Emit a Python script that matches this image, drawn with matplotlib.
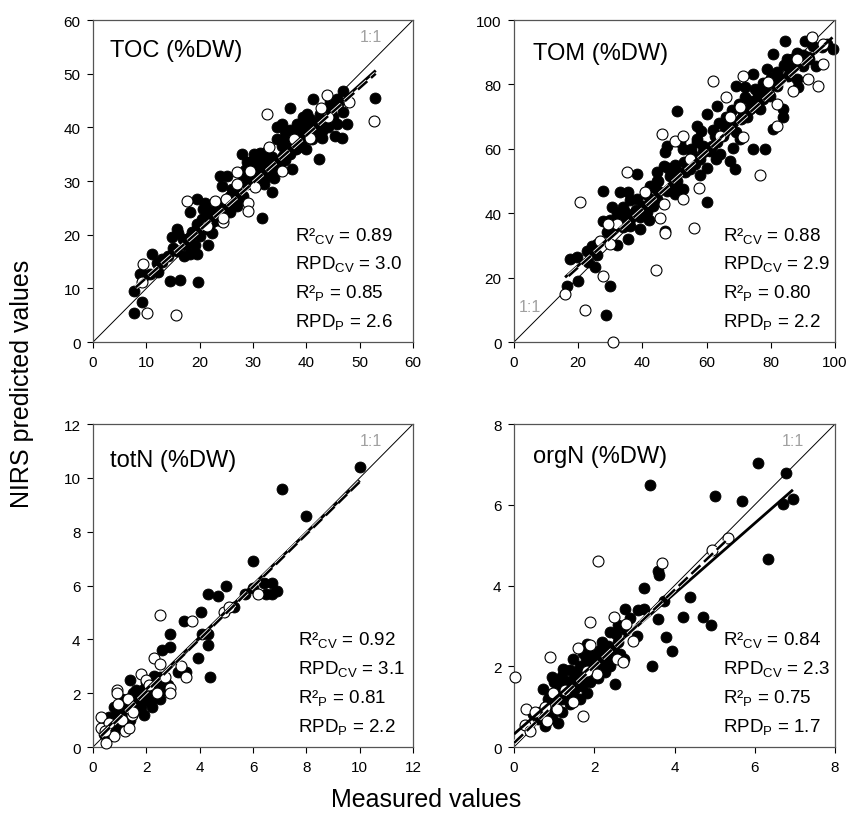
import matplotlib
matplotlib.use("Agg")
import matplotlib.pyplot as plt
import matplotlib.patheffects as pe

plt.rcParams['font.family'] = ['Liberation Sans', 'DejaVu Sans']
plt.rcParams['mathtext.fontset'] = 'custom'
plt.rcParams['mathtext.rm'] = 'Liberation Sans'
plt.rcParams['mathtext.it'] = 'Liberation Sans:italic'
plt.rcParams['mathtext.bf'] = 'Liberation Sans:bold'

# ---- TOC (%DW) ----
toc_cal_x = [7.6, 9.1, 7.6, 11, 8.8, 10.7, 12.2, 14.4, 16.3, 19.6, 14.1, 16, 17, 18.2, 19.4, 18.2, 19.4, 21,
             21.6, 21.3, 22.3, 24.1, 25.1, 26.3, 26.9, 27.9, 28.8, 30.1, 31.3, 31.6, 32, 33.5, 34.1, 35.7, 37.3,
             34.4, 35.4, 36.9, 38.5, 39.4, 41, 41.3, 42.3, 42.9, 45.7, 45.4, 46.6, 47.6, 46.9, 46, 46.9, 52.9,
             38.8, 40.1, 35.7, 38.2, 16.9, 18.2, 19.4, 20.4, 20.7, 21.3, 21.9, 22.6, 20.1, 19.1, 23.5, 24.4,
             25.7, 25.7, 27.2, 28.2, 28.8, 27.9, 29.4, 30.7, 31, 31.9, 32.6, 33.2, 34.4, 35.4, 36.3, 36.9, 37.6,
             38.2, 39.4, 40.1, 40.7, 41.9, 42.6, 43.2, 43.8, 44.7, 44.4, 45.7, 38.2, 34.4, 36, 14.8, 15.7, 15.7,
             11.9, 12.9, 9.8, 23.8, 30.0, 32.0, 33.0, 29.0, 36.5, 39.0, 41.5, 43.0, 24.0, 26.0, 22.0,
             28.5, 29.5, 30.5, 31.5, 32.5, 33.5, 30, 31, 32, 33, 34, 35, 36, 37, 38, 39, 40, 41, 42, 43, 44, 45,
             40, 37, 39.5, 22, 23, 24, 26, 27, 18.5, 19.5, 21, 17.5, 13, 15]
toc_cal_y = [9.6, 7.4, 5.5, 16.4, 12.7, 12.7, 13, 11.4, 11.5, 11.2, 16.1, 20.4, 16.1, 16.4, 16.4, 24.2, 26.6, 26,
             18, 21, 20.4, 29.1, 31, 28.2, 25.4, 35, 33.5, 35, 35.3, 23.2, 30.4, 27.9, 32.2, 34.7, 32.2,
             40, 40.6, 43.7, 36.3, 41.9, 37.8, 45.3, 34.1, 39.4, 40.6, 38.4, 38.1, 40.6, 46.8, 44.3, 42.8, 45.4,
             39.7, 42.5, 37.8, 39.1, 19.2, 19.5, 21.1, 22.9, 24.8, 23.5, 24.2, 22.6, 19.8, 18, 24.2, 25.5,
             27.3, 24.2, 26.7, 27.3, 29.4, 31.1, 30.4, 31.6, 33.5, 32.9, 34.1, 31.6, 33.5, 36.6, 37.2, 39.1, 36,
             37.8, 39.1, 40.4, 41.6, 40.9, 42.5, 41.6, 43.4, 42.8, 44.7, 45.3, 40.6, 37.8, 39.4, 19.5, 21.1, 17,
             14.8, 15.5, 12.4, 31, 33.0, 29.5, 34.5, 30.0, 35.0, 36.5, 39.0, 38.0, 22.5, 28.5, 24.0,
             32, 33.5, 34, 34.5, 35.5, 34.5, 31, 30, 31.5, 32, 30.5, 33, 34, 35, 36, 37, 38, 39, 40, 41, 40, 42,
             36, 39.5, 41, 22, 25, 23.5, 25.5, 28, 20.5, 22, 25, 18, 15, 17.5]
toc_val_x = [9.4, 10.1, 9.1, 15.5, 17.7, 22.9, 24.4, 24.4, 26.9, 29.1, 29.1, 29.4, 30.4, 32.9, 35.5, 32.7,
             40.7, 42.8, 43.8, 44.1, 47.9, 52.7, 37.6, 25, 21.3, 26.9]
toc_val_y = [14.5, 5.5, 11.1, 5, 26.3, 26.3, 22.3, 23.2, 31.6, 26, 24.5, 31.9, 28.8, 36.3, 31.9, 42.5,
             38.1, 43.7, 46, 41.9, 44.7, 41.1, 37.8, 26.7, 21.6, 29.4]
toc_fit_cal = ([7.5, 53.0], [9.9, 50.6])
toc_fit_val = ([8.0, 53.0], [10.2, 50.0])

# ---- TOM (%DW) ----
tom_cal_x = [17.4, 16.4, 20, 25.2, 29.9, 28.6, 27.8, 27.8, 30.4, 33, 35.6, 38.2, 34.6, 35.6, 39.2, 41.3, 44.4,
             47, 46.6, 47, 50.7, 51.7, 53.3, 56.9, 55.3, 60, 60, 58.4, 61, 62.6, 63.1, 64.1, 65.7, 67.3, 68.8,
             68.2, 69.3, 70.8, 71.9, 74.5, 74.5, 78.2, 73.5, 76.1, 78.7, 78.7, 80.8, 80.8, 83.9, 83.9, 84.4,
             84.9, 85.4, 88, 88, 88.5, 90.1, 90.6, 93.2, 94, 95.8, 97.4, 99.4,
             19.5, 22.6, 24.2, 25.7, 28.9, 30.9, 33, 34.1, 36.1, 37.7, 39.2, 38.2, 40.3, 42.3, 43.4, 44.4, 47.5,
             49.6, 50.7, 51.2, 48.6, 52.7, 54.8, 56.4, 57.9, 58.9, 61.6, 63.1, 65.2, 66.2, 68.3, 69.3, 71.4,
             73.5, 75.6, 76.6, 77.6, 79.7, 80.8, 81.8, 82.9, 85.9, 77.6, 75.1, 70.4, 56.9, 52.7, 47.5, 44.4,
             42.3, 29.9, 32.0, 45.0, 54.0, 60.0, 72.5, 86.5, 91.5,
             30, 32, 34, 36, 38, 41, 43, 45, 48, 50, 53, 55, 57, 59, 62, 64, 66, 68, 70, 72, 74, 76, 78, 80, 82,
             84, 86, 88, 90, 92, 63, 58, 50, 42, 36, 26, 23]
tom_cal_y = [25.8, 17.3, 19, 23.2, 17.5, 8.4, 37.7, 47, 41.8, 46.5, 46.7, 52.2, 40.3, 32, 35.1, 40.3, 50.1,
             58.9, 54.8, 34.6, 71.8, 62, 52.7, 63, 58.4, 43.4, 70.8, 65.6, 59.4, 64.1, 73.4, 58.4, 65.6, 56.3, 53.7,
             60.4, 79.6, 69.2, 79.1, 83.2, 60.1, 60.1, 75, 74.4, 77.5, 84.8, 89.4, 66.1, 69.8, 72.3, 93.6,
             87.9, 82.7, 89.9, 81.7, 79.1, 85.6, 93.6, 92, 85.8, 91.5, 92.5, 91,
             26.3, 28.4, 29.9, 30.4, 34.1, 35.1, 38.2, 35.6, 38.2, 40.3, 38.7, 44.4, 42.3, 44.4, 42.3, 44.4, 47,
             48.5, 50.1, 52.7, 51.6, 47.5, 53.7, 55.3, 56.8, 58.9, 60.9, 62, 64.1, 67.2, 68.2, 65.1, 71.3,
             72.3, 75.5, 72.3, 75.5, 76.5, 80.6, 79.6, 81.7, 84.8, 80.6, 78.6, 63, 67.2, 59.9, 61, 52.7,
             48.5, 35.1, 30.0, 47.0, 56.0, 54.0, 70.0, 88.0, 88.5,
             38, 40, 42, 44, 41, 46, 48, 50, 54, 55, 56, 60, 62, 61, 66, 68, 70, 72, 74, 76, 73, 77, 79, 82, 84,
             86, 83, 87, 89, 88, 57, 52, 46, 38, 36, 27, 25]
tom_val_x = [15.9, 22.1, 20.6, 27.8, 30.7, 44.1, 35.1, 46, 56.2, 47, 45.5, 62.1, 66, 71.4, 76.6, 79.2, 81.8,
             81.8, 87, 88, 91.7, 92.7, 94.8, 96.3, 96.3, 57.6, 52.7, 50.1, 52.7, 46.6, 40.8, 32, 29.4, 26.8,
             29.9, 67.3, 70.4, 71.4, 64.1, 54.8]
tom_val_y = [14.9, 10, 43.4, 20.6, 0.1, 22.5, 52.9, 64.6, 35.3, 34, 38.4, 81.2, 76.2, 82.7, 52, 80.8, 67.2,
             73.9, 78, 87.9, 81.7, 94.6, 79.4, 86.3, 92.5, 47.8, 44.4, 62.5, 64.1, 42.8, 46.5, 36.6, 36.6, 31.5,
             30.4, 69.8, 72.9, 63.8, 64.1, 56.8]
tom_fit_cal = ([15.9, 99.2], [20.1, 94.6])
tom_fit_val = ([17.0, 97.0], [20.5, 92.5])

# ---- totN (%DW) ----
totn_cal_x = [10.0, 7.1, 8.0, 6.0, 5.0, 4.3, 4.7, 4.05, 3.4, 2.9, 2.9, 2.6, 4.1, 4.3, 4.3, 3.95, 3.5, 3.2, 4.4,
              5.3, 5.7, 6.0, 6.4, 6.7, 6.5, 6.7, 6.9, 1.4, 1.9, 1.9, 2.3, 2.3, 2.5, 2.1, 2.8, 2.8, 1.6, 1.4, 1.1,
              0.9, 0.8, 1.0, 0.6, 0.4, 1.4, 1.1, 1.5, 0.7, 0.9, 1.2, 1.3, 1.6, 1.7, 1.8, 2.0, 2.2, 2.4, 2.6, 2.0,
              1.5, 1.0, 0.5, 2.7, 1.1,
              0.6, 0.8, 1.0, 1.2, 1.3, 1.5, 1.7, 1.9, 2.1, 2.3, 2.5, 1.8, 1.6, 2.2, 0.4, 1.0]
totn_cal_y = [10.4, 9.6, 8.6, 6.9, 6.0, 5.7, 5.6, 5.0, 4.7, 4.2, 3.7, 3.6, 4.2, 4.2, 3.8, 3.3, 2.8, 2.8, 2.6,
              5.2, 5.7, 5.9, 6.1, 6.1, 5.7, 5.7, 5.8, 2.5, 1.2, 2.15, 2.65, 2.0, 1.8, 1.7, 2.3, 2.1, 1.7, 1.5, 1.4,
              1.3, 1.5, 1.0, 1.1, 0.8, 1.0, 1.8, 2.0, 0.9, 0.7, 1.3, 1.1, 1.4, 1.9, 1.5, 1.9, 1.8, 2.4, 2.1, 2.4,
              1.7, 1.2, 0.6, 2.4, 0.8,
              0.8, 1.0, 1.5, 1.6, 1.8, 1.3, 1.6, 2.0, 2.2, 2.2, 2.6, 1.8, 2.1, 1.5, 0.5, 0.9]
totn_val_x = [2.5, 3.7, 2.3, 2.5, 3.3, 3.5, 4.9, 5.1, 6.2, 1.8, 2.0, 2.9, 2.9, 2.4, 0.9, 0.9, 0.95, 1.3, 1.45,
              1.2, 0.8, 0.5, 0.3, 0.3, 0.6, 0.45, 1.5, 2.1, 2.7, 1.1, 1.35]
totn_val_y = [4.9, 4.7, 3.3, 3.1, 3.0, 2.6, 5.0, 5.2, 5.7, 2.7, 2.5, 2.2, 2.0, 2.0, 2.1, 2.0, 1.6, 1.8, 1.2,
              0.6, 0.4, 0.15, 0.7, 1.1, 0.9, 0.6, 1.3, 2.3, 2.6, 1.0, 0.7]
totn_fit_cal = ([0.3, 10.0], [0.5, 9.9])
totn_fit_val = ([0.3, 10.0], [0.4, 9.85])

# ---- orgN (%DW) ----
orgn_cal_x = [6.09, 6.78, 6.95, 6.70, 5.68, 5.01, 3.39, 6.32, 4.39, 4.2, 4.72, 4.91, 3.93, 3.79, 3.45, 3.58,
              3.25, 3.25, 3.58, 3.62, 3.74, 2.77, 2.6, 3.06, 2.52, 2.39, 2.23, 2.1, 2.19, 2.27, 1.98, 1.89, 1.77,
              1.73, 1.81, 1.56, 1.23, 1.27, 0.94, 0.73, 1.02, 0.9, 0.77, 1.1, 1.19, 1.4, 1.65, 0.65, 0.48, 0.81,
              2.73, 1.81, 1.48, 1.3, 1.5, 1.6, 1.7, 1.9, 2.0, 2.1, 2.3, 2.4, 2.5, 1.2, 1.4, 1.0, 0.85, 2.6, 2.8,
              1.8, 2.2,
              0.6, 0.75, 0.9, 1.1, 1.2, 1.35, 1.45, 1.55, 1.65, 1.75, 1.85, 1.95, 2.05, 2.15, 2.25, 2.35, 2.45,
              2.55, 2.65, 2.9, 3.1, 1.0, 0.95]
orgn_cal_y = [7.03, 6.79, 6.14, 6.01, 6.10, 6.21, 6.49, 4.66, 3.71, 3.23, 3.23, 3.03, 2.37, 2.73, 2.01, 3.17,
              3.93, 3.42, 4.37, 4.26, 3.62, 3.42, 3.01, 2.76, 1.56, 2.84, 2.51, 2.34, 2.18, 1.85, 1.85, 1.6, 2.01,
              2.34, 1.35, 1.85, 1.93, 1.52, 1.73, 1.44, 1.27, 0.98, 0.53, 0.59, 0.86, 1.07, 1.19, 0.86, 0.82, 0.78,
              2.18, 2.55, 2.18, 1.6, 1.4, 1.7, 1.5, 1.9, 2.1, 1.7, 2.2, 2.0, 2.4, 1.2, 1.9, 1.1, 1.2, 2.6, 2.9,
              2.2, 2.6,
              0.7, 0.9, 1.3, 1.5, 1.75, 1.3, 1.65, 1.2, 2.0, 1.75, 2.05, 2.3, 1.95, 2.4, 2.0, 2.5, 2.2,
              2.8, 2.3, 3.2, 3.4, 1.6, 0.75]
orgn_val_x = [0.02, 0.3, 0.27, 0.4, 0.52, 0.9, 2.09, 3.68, 5.34, 4.94, 1.89, 2.5, 2.79, 2.97, 1.59, 1.89, 2.06,
              1.71, 1.48, 1.06, 0.81, 0.77, 0.98, 1.27, 2.56, 2.71, 1.81]
orgn_val_y = [1.73, 0.94, 0.55, 0.4, 0.86, 2.22, 4.6, 4.55, 5.17, 4.88, 3.1, 3.23, 3.05, 2.62, 2.44, 2.53, 1.81,
              0.78, 1.12, 0.94, 0.65, 0.98, 1.35, 1.4, 2.18, 2.11, 1.89]
orgn_fit_cal = ([0.0, 6.95], [0.32, 6.37])
orgn_fit_val = ([0.0, 5.35], [0.1, 5.17])

panels = [
    ("TOC (%DW)", 60, 10, toc_cal_x, toc_cal_y, toc_val_x, toc_val_y, toc_fit_cal, toc_fit_val,
     ["0.89", "3.0", "0.85", "2.6"], "top"),
    ("TOM (%DW)", 100, 20, tom_cal_x, tom_cal_y, tom_val_x, tom_val_y, tom_fit_cal, tom_fit_val,
     ["0.88", "2.9", "0.80", "2.2"], "bottom"),
    ("totN (%DW)", 12, 2, totn_cal_x, totn_cal_y, totn_val_x, totn_val_y, totn_fit_cal, totn_fit_val,
     ["0.92", "3.1", "0.81", "2.2"], "top"),
    ("orgN (%DW)", 8, 2, orgn_cal_x, orgn_cal_y, orgn_val_x, orgn_val_y, orgn_fit_cal, orgn_fit_val,
     ["0.84", "2.3", "0.75", "1.7"], "top"),
]

rects = [[0.1092, 0.5862, 0.3756, 0.3884], [0.6033, 0.5862, 0.3768, 0.3884],
         [0.1092, 0.0977, 0.3756, 0.3896], [0.6033, 0.0977, 0.3768, 0.3896]]
stat_x = [0.631, 0.651, 0.640, 0.651]
title_pos = [(0.053, 0.889), (0.059, 0.880), (0.053, 0.871), (0.059, 0.882)]

fig = plt.figure(figsize=(8.52, 8.29), dpi=100)

for i, (title, vmax, step, cx, cy, vx, vy, fc, fv, stats, one_pos) in enumerate(panels):
    ax = fig.add_axes(rects[i])
    ax.plot([0, vmax], [0, vmax], color="black", lw=0.7, zorder=1)
    ax.scatter(cx, cy, s=62, c="black", edgecolors="black", linewidths=0.6, zorder=2, clip_on=False)
    ax.scatter(vx, vy, s=62, c="white", edgecolors="black", linewidths=0.8, zorder=3, clip_on=False)
    ax.plot(fc[0], fc[1], color="black", lw=2.0, zorder=4, solid_capstyle="butt")
    ax.plot(fv[0], fv[1], color="black", lw=1.8, ls=(0, (5, 2)), zorder=5,
            path_effects=[pe.Stroke(linewidth=3.0, foreground="white"), pe.Normal()])
    ax.set_xlim(0, vmax)
    ax.set_ylim(0, vmax)
    ax.set_xticks(range(0, vmax + 1, step))
    ax.set_yticks(range(0, vmax + 1, step))
    ax.tick_params(direction="out", length=4, width=0.8, labelsize=11, pad=5)
    for sp in ax.spines.values():
        sp.set_color("#555555")
        sp.set_linewidth(0.9)

    ax.text(title_pos[i][0], title_pos[i][1], title, transform=ax.transAxes, fontsize=17,
            ha="left", va="baseline")
    if one_pos == "top":
        ax.text(0.835, 0.935, "1:1", transform=ax.transAxes, fontsize=11.5, color="#a0a0a0",
                ha="left", va="baseline")
    else:
        ax.text(0.015, 0.095, "1:1", transform=ax.transAxes, fontsize=11.5, color="#a0a0a0",
                ha="left", va="baseline")

    labels = [r"R²$_{\mathrm{CV}}$ = " + stats[0], r"RPD$_{\mathrm{CV}}$ = " + stats[1],
              r"R²$_{\mathrm{P}}$ = " + stats[2], r"RPD$_{\mathrm{P}}$ = " + stats[3]]
    for j, lab in enumerate(labels):
        ax.text(stat_x[i], 0.318 - j * 0.089, lab, transform=ax.transAxes, fontsize=13.5,
                ha="left", va="baseline")

fig.text(0.026, 0.537, "NIRS predicted values", rotation=90, fontsize=18, ha="center", va="center")
fig.text(0.5, 0.035, "Measured values", fontsize=18, ha="center", va="center")

fig.savefig("out.png", dpi=100)
